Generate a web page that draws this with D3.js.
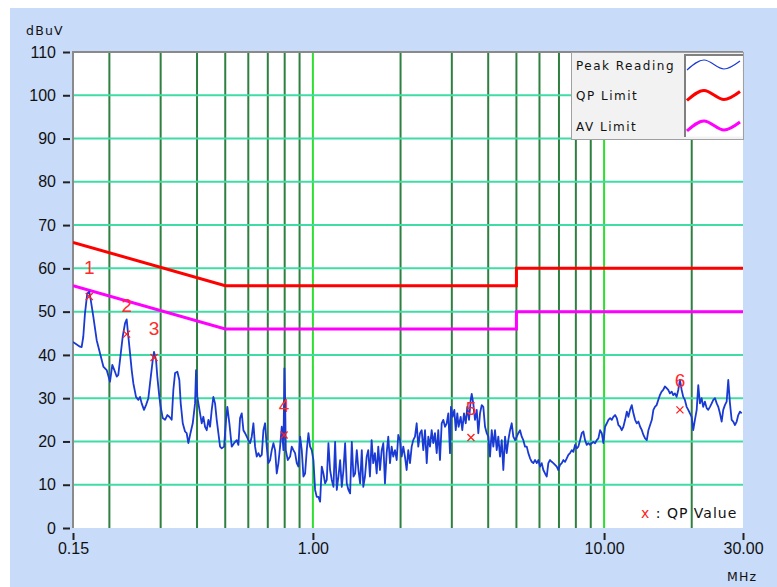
<!DOCTYPE html>
<html lang="en">
<head>
<meta charset="UTF-8">
<title>Conducted emission scan</title>
<script src="https://d3js.org/d3.v7.min.js"></script>
<style>
  html, body { margin: 0; padding: 0; background: #fff; }
  svg { display: block; }
  .tick text { font-family: 'Liberation Sans', Arial, sans-serif; font-size: 16px; fill: #111; }
  .small { font-family: 'DejaVu Sans', sans-serif; font-size: 12px; fill: #111; letter-spacing: 1.5px; }
</style>
</head>
<body>
<div id="chart"></div>
<script>
// ---- data ----
var yTicks = [0, 10, 20, 30, 40, 50, 60, 70, 80, 90, 100, 110];
var xTicks = [0.15, 1, 10, 30];
var xTickLabels = ["0.15", "1.00", "10.00", "30.00"];
var minorGrid = [0.2, 0.3, 0.4, 0.5, 0.6, 0.7, 0.8, 0.9, 2, 3, 4, 5, 6, 7, 8, 9, 20];
var majorGrid = [1, 10];

var qpLimitFreq = [0.15, 0.5, 5, 5, 30];
var qpLimitDb   = [66, 56, 56, 60, 60];
var avLimitFreq = [0.15, 0.5, 5, 5, 30];
var avLimitDb   = [56, 46, 46, 50, 50];

var qpMarkers = ["1", "2", "3", "4", "5", "6"];
var qpFreq    = [0.1706, 0.2293, 0.2847, 0.7963, 3.49, 18.22];
var qpValue   = [53.5, 44.8, 39.4, 21.5, 20.9, 27.3];

var legendNames = ["Peak Reading", "QP Limit", "AV Limit"];

// peak reading trace: [MHz, dBuV]
var peakReading = [
  [0.150,43.0],[0.1585,41.9],[0.1606,41.8],[0.1627,44.2],[0.1649,49.6],[0.1679,54.2],[0.1706,54.6],[0.1726,52.7],
  [0.1762,48.8],[0.1809,43.4],[0.1857,40.4],[0.1907,37.3],[0.1958,36.5],[0.2010,33.8],[0.2047,37.7],[0.2080,36.5],
  [0.2119,35.0],[0.2146,35.4],[0.2175,38.8],[0.2222,44.2],[0.2263,47.3],[0.2293,48.2],[0.2324,44.2],[0.2355,40.4],
  [0.2386,36.5],[0.2418,33.4],[0.2469,30.3],[0.2515,29.6],[0.2548,30.3],[0.2582,28.8],[0.2630,27.3],[0.2672,28.4],
  [0.2722,30.0],[0.2758,33.4],[0.2818,38.8],[0.2847,40.7],[0.2893,38.8],[0.2922,35.0],[0.2969,30.3],[0.3001,28.0],
  [0.3050,25.4],[0.3106,25.0],[0.3163,26.1],[0.3213,25.7],[0.3274,25.0],[0.3317,31.9],[0.3362,35.8],[0.3424,36.1],
  [0.3478,34.2],[0.3516,28.8],[0.3573,24.2],[0.3638,22.3],[0.3686,21.9],[0.3735,19.6],[0.3785,21.5],[0.3867,24.2],
  [0.3938,28.8],[0.3969,36.5],[0.4010,30.3],[0.4097,26.5],[0.4151,24.2],[0.4206,25.7],[0.4262,23.4],[0.4319,22.6],
  [0.4376,25.0],[0.4434,23.4],[0.4493,27.3],[0.4552,30.3],[0.4613,28.8],[0.4674,25.0],[0.4736,21.9],[0.4799,18.8],
  [0.4863,18.4],[0.4954,18.8],[0.5032,25.0],[0.5084,28.0],[0.5166,24.2],[0.5263,18.8],[0.5362,19.6],[0.5476,20.3],
  [0.5548,19.2],[0.5622,25.4],[0.5697,26.5],[0.5772,22.6],[0.5849,21.9],[0.5927,21.1],[0.6004,20.3],[0.6084,19.6],
  [0.6165,21.1],[0.6247,24.2],[0.6330,18.8],[0.6414,16.5],[0.6499,17.3],[0.6585,16.5],[0.6673,16.9],[0.6761,22.6],
  [0.6851,24.2],[0.6942,18.8],[0.7034,15.0],[0.7128,15.7],[0.7223,18.0],[0.7318,19.6],[0.7415,18.0],[0.7514,12.6],
  [0.7613,15.0],[0.7714,18.8],[0.7817,23.4],[0.7921,18.0],[0.7982,36.9],[0.8026,30.3],[0.8070,18.0],[0.8199,15.7],
  [0.8349,16.5],[0.8460,18.8],[0.8572,18.0],[0.8686,17.3],[0.8802,15.0],[0.8918,14.2],[0.9037,21.1],[0.9157,18.0],
  [0.9278,11.9],[0.9401,12.6],[0.9526,18.0],[0.9653,21.9],[0.9781,18.8],[0.9911,18.0],[1.0041,15.7],[1.0175,8.8],
  [1.0310,7.2],[1.0447,7.2],[1.0586,6.1],[1.0727,14.2],[1.0868,12.6],[1.1013,10.3],[1.1159,11.1],[1.1307,19.6],
  [1.1457,13.4],[1.1609,11.1],[1.1764,9.5],[1.1920,19.9],[1.2079,8.8],[1.2238,11.9],[1.2401,15.7],[1.2566,9.5],
  [1.2732,13.4],[1.2901,19.6],[1.3073,10.3],[1.3246,8.8],[1.3422,8.0],[1.3601,19.9],[1.3780,11.9],[1.3963,12.6],
  [1.4149,18.0],[1.4336,13.4],[1.4527,10.3],[1.4720,18.0],[1.4897,9.5],[1.5095,11.9],[1.530,16.5],[1.549,18.0],
  [1.570,11.9],[1.591,20.3],[1.611,15.0],[1.633,17.3],[1.656,12.6],[1.677,18.8],[1.700,13.4],[1.723,18.0],
  [1.745,19.6],[1.768,10.3],[1.792,17.3],[1.815,21.1],[1.840,15.0],[1.864,18.8],[1.888,16.5],[1.914,18.0],
  [1.940,15.7],[1.964,21.5],[1.991,20.3],[2.018,16.5],[2.044,18.8],[2.071,16.5],[2.099,13.4],[2.126,18.0],
  [2.155,15.0],[2.184,18.8],[2.211,20.3],[2.242,21.1],[2.272,24.2],[2.301,18.8],[2.333,21.9],[2.364,22.6],
  [2.394,18.0],[2.427,22.6],[2.460,15.0],[2.491,21.1],[2.524,18.8],[2.558,22.6],[2.591,19.6],[2.626,21.9],
  [2.662,17.3],[2.695,22.6],[2.732,15.7],[2.769,24.2],[2.804,25.0],[2.843,23.4],[2.881,24.2],[2.918,26.5],
  [2.957,17.3],[2.980,28.0],[3.020,25.7],[3.060,27.3],[3.094,22.6],[3.133,26.5],[3.165,23.4],[3.218,25.7],
  [3.259,22.6],[3.303,26.5],[3.349,24.2],[3.391,28.0],[3.437,25.0],[3.483,29.6],[3.511,31.0],[3.555,28.8],
  [3.604,25.0],[3.653,27.3],[3.699,21.9],[3.749,26.5],[3.800,28.4],[3.848,28.0],[3.901,23.4],[3.954,21.9],
  [4.004,21.1],[4.058,16.5],[4.113,22.6],[4.165,18.8],[4.222,22.6],[4.279,18.0],[4.333,21.1],[4.392,16.5],
  [4.452,20.3],[4.508,13.4],[4.570,21.1],[4.631,17.3],[4.690,20.3],[4.754,22.6],[4.818,24.2],[4.879,21.1],
  [4.946,20.3],[5.013,21.1],[5.076,21.9],[5.145,22.6],[5.215,21.1],[5.281,20.3],[5.353,18.8],[5.426,18.8],
  [5.494,17.3],[5.569,16.1],[5.644,15.3],[5.716,15.0],[5.794,15.7],[5.872,15.0],[5.947,15.7],[6.027,14.2],
  [6.108,15.0],[6.186,13.4],[6.270,12.6],[6.355,11.9],[6.436,15.0],[6.523,15.7],[6.611,15.3],[6.695,15.0],
  [6.787,14.6],[6.878,14.2],[6.965,13.4],[7.061,14.6],[7.156,15.0],[7.247,15.7],[7.345,15.3],[7.444,16.1],
  [7.539,16.9],[7.641,17.3],[7.745,18.0],[7.843,17.6],[7.950,19.2],[8.058,18.4],[8.160,18.8],[8.270,20.3],
  [8.382,21.9],[8.488,22.3],[8.604,20.3],[8.721,19.2],[8.831,19.6],[8.952,19.2],[9.073,19.6],[9.188,19.9],
  [9.313,19.6],[9.439,20.3],[9.558,20.7],[9.689,22.6],[9.820,21.9],[9.944,19.6],[10.08,23.4],[10.22,24.2],
  [10.35,25.0],[10.49,25.4],[10.63,25.0],[10.76,25.7],[10.91,26.1],[11.06,25.4],[11.20,23.8],[11.35,23.4],
  [11.50,22.6],[11.65,23.4],[11.81,25.0],[11.97,26.9],[12.12,25.7],[12.28,27.3],[12.45,28.4],[12.61,26.5],
  [12.78,25.0],[12.95,24.2],[13.12,24.6],[13.30,23.4],[13.48,22.6],[13.65,21.5],[13.83,20.7],[14.02,20.3],
  [14.20,22.6],[14.39,23.8],[14.59,25.0],[14.77,27.3],[14.95,28.0],[15.15,28.4],[15.35,29.6],[15.55,30.7],
  [15.76,31.5],[15.96,31.9],[16.18,32.7],[16.40,32.3],[16.61,31.9],[16.83,31.1],[17.07,31.5],[17.28,30.7],
  [17.51,31.1],[17.75,30.3],[17.98,31.9],[18.22,34.2],[18.47,31.9],[18.70,30.3],[18.95,29.6],[19.21,28.0],
  [19.46,27.3],[19.72,26.5],[19.99,25.7],[20.24,22.6],[20.51,25.0],[20.80,27.3],[21.06,33.0],[21.34,28.8],
  [21.63,30.0],[21.90,28.0],[22.20,29.2],[22.51,27.7],[22.79,27.3],[23.10,28.0],[23.42,28.8],[23.72,29.6],
  [24.04,30.0],[24.37,28.8],[24.67,28.0],[25.00,26.5],[25.34,24.6],[25.66,27.3],[26.00,28.4],[26.36,29.2],
  [26.70,34.2],[27.06,28.8],[27.43,25.0],[27.78,24.6],[28.15,23.8],[28.54,24.6],[28.90,26.1],[29.29,26.9],
  [29.69,26.5]
];

// ---- drawing ----
var W = 777, H = 587;
var plotLeft = 73, plotRight = 743, plotTop = 52, plotBottom = 528;

var svg = d3.select("#chart").append("svg")
  .attr("width", W)
  .attr("height", H);

// light blue panel
svg.append("rect")
  .attr("x", 10).attr("y", 8)
  .attr("width", W - 10).attr("height", H - 8)
  .attr("fill", "#c8dbf9");

var x = d3.scaleLog().domain([0.15, 30]).range([plotLeft, plotRight]);
var y = d3.scaleLinear().domain([0, 110]).range([plotBottom, plotTop]);

// plot area
svg.append("rect")
  .attr("x", plotLeft).attr("y", plotTop)
  .attr("width", plotRight - plotLeft).attr("height", plotBottom - plotTop)
  .attr("fill", "#fff");

svg.append("clipPath").attr("id", "plotclip")
  .append("rect")
  .attr("x", plotLeft).attr("y", plotTop)
  .attr("width", plotRight - plotLeft).attr("height", plotBottom - plotTop);

// vertical grid
svg.append("g").selectAll("line")
  .data(minorGrid)
  .enter().append("line")
  .attr("x1", function(d) { return x(d); })
  .attr("x2", function(d) { return x(d); })
  .attr("y1", plotTop).attr("y2", plotBottom)
  .attr("stroke", "#2f8040")
  .attr("stroke-width", 2);

svg.append("g").selectAll("line")
  .data(majorGrid)
  .enter().append("line")
  .attr("x1", function(d) { return x(d); })
  .attr("x2", function(d) { return x(d); })
  .attr("y1", plotTop).attr("y2", plotBottom)
  .attr("stroke", "#2ee02e")
  .attr("stroke-width", 2);

// horizontal grid
svg.append("g").selectAll("line")
  .data(yTicks.filter(function(d) { return d > 0 && d < 110; }))
  .enter().append("line")
  .attr("x1", plotLeft).attr("x2", plotRight)
  .attr("y1", function(d) { return y(d); })
  .attr("y2", function(d) { return y(d); })
  .attr("stroke", "#3fdca6")
  .attr("stroke-width", 2);

// frame (top and left)
svg.append("path")
  .attr("d", "M" + plotLeft + "," + plotBottom + "V" + plotTop + "H" + plotRight)
  .attr("fill", "none")
  .attr("stroke", "#8a8a8a")
  .attr("stroke-width", 2);

// axes
var yAxis = svg.append("g")
  .attr("transform", "translate(70,0)")
  .call(d3.axisLeft(y).tickValues(yTicks).tickSize(7).tickSizeOuter(0).tickPadding(7));
yAxis.select(".domain").remove();
yAxis.selectAll(".tick line").attr("stroke", "#222").attr("stroke-width", 2);

var xAxis = svg.append("g")
  .attr("transform", "translate(0,533)")
  .call(d3.axisBottom(x).tickValues(xTicks).tickSize(7).tickSizeOuter(0).tickPadding(3)
    .tickFormat(function(d, i) { return xTickLabels[i]; }));
xAxis.select(".domain").remove();
xAxis.selectAll(".tick line").attr("stroke", "#222").attr("stroke-width", 2);

svg.append("text")
  .attr("class", "small")
  .attr("x", 26).attr("y", 35)
  .style("font-size", "12.5px")
  .style("letter-spacing", "1.2px")
  .text("dBuV");

svg.append("text")
  .attr("class", "small")
  .attr("x", 727).attr("y", 581)
  .style("font-size", "12.5px")
  .style("letter-spacing", "1.2px")
  .text("MHz");

var plot = svg.append("g").attr("clip-path", "url(#plotclip)");

function limitLine(freqs, vals) {
  return d3.line()
    .x(function(d, i) { return x(freqs[i]); })
    .y(function(d, i) { return y(vals[i]); })(vals);
}

plot.append("path")
  .attr("d", limitLine(qpLimitFreq, qpLimitDb))
  .attr("fill", "none").attr("stroke", "#ff0000").attr("stroke-width", 3);

plot.append("path")
  .attr("d", limitLine(avLimitFreq, avLimitDb))
  .attr("fill", "none").attr("stroke", "#ff00ff").attr("stroke-width", 3);

plot.append("path")
  .datum(peakReading)
  .attr("d", d3.line()
    .x(function(d) { return x(d[0]); })
    .y(function(d) { return y(d[1]); }))
  .attr("fill", "none")
  .attr("stroke", "#1a3ad4")
  .attr("stroke-width", 1.8)
  .attr("stroke-linejoin", "round");

// QP markers
var mk = plot.append("g").selectAll("g")
  .data(qpMarkers)
  .enter().append("g")
  .attr("transform", function(d, i) { return "translate(" + x(qpFreq[i]) + "," + y(qpValue[i]) + ")"; });

mk.append("path")
  .attr("d", "M-3.5,-3.5L3.5,3.5M-3.5,3.5L3.5,-3.5")
  .attr("stroke", "#ff2020")
  .attr("stroke-width", 1.3);

mk.append("text")
  .attr("y", -29)
  .attr("text-anchor", "middle")
  .attr("dominant-baseline", "central")
  .attr("fill", "#ff2a2a")
  .style("font-family", "'Liberation Sans', Arial, sans-serif")
  .style("font-size", "19px")
  .text(function(d) { return d; });

// QP value note
var note = svg.append("text")
  .attr("class", "small")
  .attr("x", 641).attr("y", 518)
  .style("font-size", "14px")
  .style("letter-spacing", "1px");
note.append("tspan").attr("fill", "#ff2020").text("x");
note.append("tspan").text(" : QP Value");

// legend
var lg = svg.append("g");
lg.append("rect")
  .attr("x", 571.5).attr("y", 52.5)
  .attr("width", 172).attr("height", 87)
  .attr("fill", "#f2f2f2")
  .attr("stroke", "#a0a0a0");
lg.append("rect")
  .attr("x", 684.5).attr("y", 54.5)
  .attr("width", 58).attr("height", 82)
  .attr("fill", "#fff");
lg.append("path")
  .attr("d", "M685,137V55H743")
  .attr("fill", "none")
  .attr("stroke", "#808080")
  .attr("stroke-width", 2);

var legendColors = ["#1a3ad4", "#ff0000", "#ff00ff"];
var legendWidths = [1.2, 3, 3];
var wave = [[0, 5], [17, -5], [37, 4], [53, -4]];

legendNames.forEach(function(name, i) {
  var cy = 65 + i * 30.5;
  lg.append("text")
    .attr("class", "small")
    .attr("x", 576).attr("y", cy + 4.5)
    .text(name);
  lg.append("path")
    .attr("d", d3.line()
      .x(function(d) { return 687 + d[0]; })
      .y(function(d) { return cy + d[1]; })
      .curve(d3.curveMonotoneX)(wave))
    .attr("fill", "none")
    .attr("stroke", legendColors[i])
    .attr("stroke-width", legendWidths[i]);
});
</script>
</body>
</html>
